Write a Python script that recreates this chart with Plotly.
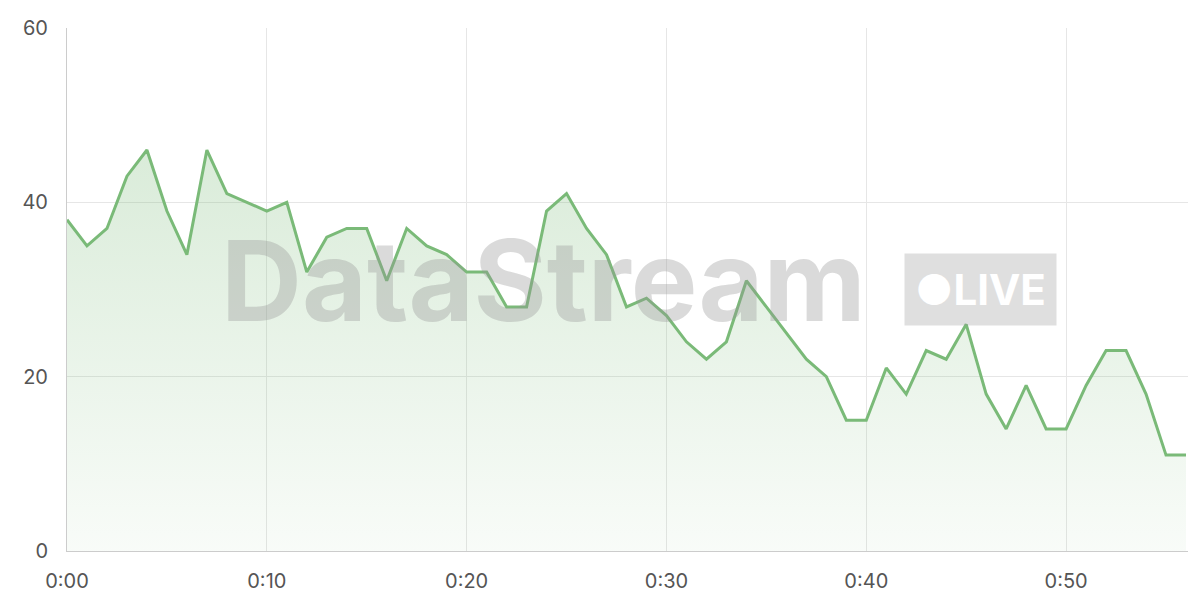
import plotly.graph_objects as go

minutes = list(range(57))
values = [38, 35, 37, 43, 46, 39, 34, 46, 41, 40, 39, 40, 32, 36, 37, 37, 31, 37, 35, 34,
          32, 32, 28, 28, 39, 41, 37, 34, 28, 29, 27, 24, 22, 24, 31, 28, 25, 22, 20, 15,
          15, 21, 18, 23, 22, 26, 18, 14, 19, 14, 14, 19, 23, 23, 18, 11, 11]
tick_vals = [0, 10, 20, 30, 40, 50]
tick_text = ["0:00", "0:10", "0:20", "0:30", "0:40", "0:50"]

fig = go.Figure()
fig.add_trace(go.Scatter(
    x=minutes, y=values, mode="lines",
    line=dict(color="#7aba78", width=3),
    fill="tozeroy",
    fillgradient=dict(type="vertical",
                      colorscale=[[0, "rgba(122,186,120,0.05)"], [1, "rgba(122,186,120,0.28)"]]),
    hoverinfo="skip"))

fig.add_annotation(x=535, y=272, xref="paper", yref="paper", showarrow=False,
                   text="<b>DataStream</b>", font=dict(family="Inter, Noto Sans", size=112, color="rgba(150,150,150,0.35)"),
                   xanchor="center", yanchor="middle")
fig.add_annotation(x=0.5, y=0.5, xref="paper", yref="paper", showarrow=False,
                   text="<b>●LIVE</b>", font=dict(family="Inter, Noto Sans", size=42, color="white"),
                   bgcolor="rgba(150,150,150,0.3)", borderpad=10, xanchor="center", yanchor="middle")
# positions in paper fractions
fig.layout.annotations[0].update(x=(535-59)/1121, y=(543-272)/523)
fig.layout.annotations[1].update(x=(972-59)/1121, y=(543-281)/523)

fig.update_layout(
    width=1200, height=600, plot_bgcolor="white", paper_bgcolor="white",
    margin=dict(l=59, r=20, t=20, b=57, autoexpand=False), showlegend=False,
    font=dict(family="Inter, Noto Sans", size=20, color="#555"),
    xaxis=dict(range=[0, 56.1], tickvals=tick_vals, ticktext=tick_text, showgrid=True,
               gridcolor="#e6e6e6", zeroline=False, showline=True, linecolor="#ccc", ticks="",
               automargin=False, ticklabelstandoff=12),
    yaxis=dict(range=[0, 60], dtick=20, showgrid=True, gridcolor="#e6e6e6", zeroline=False,
               showline=True, linecolor="#ccc", ticks="", automargin=False, ticklabelstandoff=14),
)
fig.write_html("out.html")
